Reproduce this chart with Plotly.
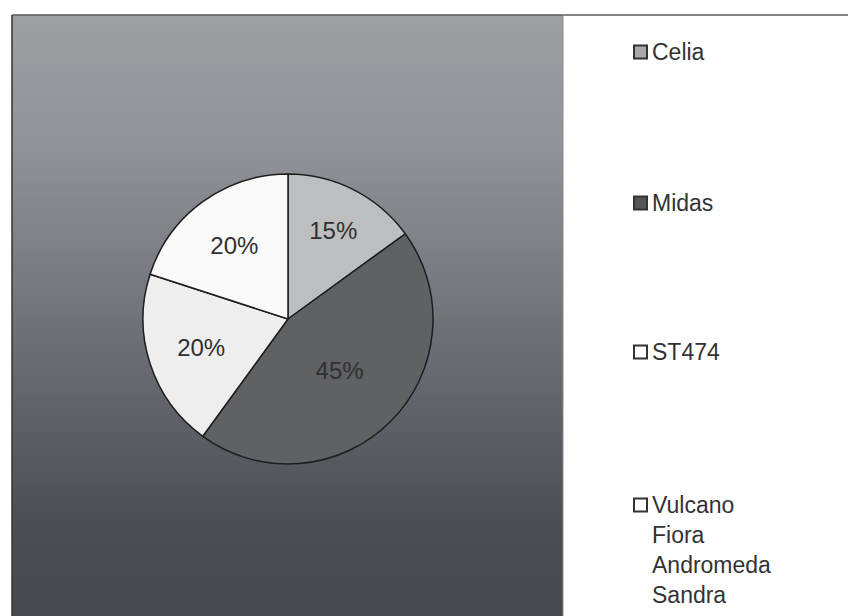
import plotly.graph_objects as go

# ---- data ----
categories = ["Celia", "Midas", "ST474", "Vulcano<br>Fiora<br>Andromeda<br>Sandra"]
legend_labels = ["Celia", "Midas", "ST474", "Vulcano<br>Fiora<br>Andromeda<br>Sandra"]
values = [15, 45, 20, 20]

# ---- style ----
W, H = 848, 616
slice_colors = ["#bdbebf", "#5f6164", "#eeeeee", "#f9f9f9"]
legend_fill = ["#a9a9a9", "#555555", "#ffffff", "#ffffff"]
font_family = "Liberation Sans, Arial, sans-serif"

box_left, box_right, box_top = 12, 563, 15

fig = go.Figure()

# gradient background (plot area)
grad_rows = list(range(0, 101))
fig.add_trace(go.Heatmap(
    z=[[r] for r in grad_rows],
    x=[0],
    y=grad_rows,
    colorscale=[[0.0, "#46494e"], [0.14, "#4a4d52"], [0.44, "#6a6d73"],
                [0.78, "#8f9297"], [1.0, "#9d9fa2"]],
    showscale=False,
    hoverinfo="skip",
    xaxis="x", yaxis="y",
))

fig.add_trace(go.Pie(
    labels=categories,
    values=values,
    sort=False,
    direction="clockwise",
    rotation=0,
    marker=dict(colors=slice_colors, line=dict(color="#1e1e1e", width=1.5)),
    texttemplate="%{percent:.0%}",
    textposition="inside",
    insidetextorientation="horizontal",
    textfont=dict(family=font_family, size=24, color="#303030"),
    domain=dict(x=[143 / W, 433 / W], y=[(H - 464) / H, (H - 174) / H]),
    showlegend=False,
    hoverinfo="label+percent",
))

shapes = []
annotations = []
# top border line
shapes.append(dict(type="line", xref="paper", yref="paper",
                   x0=box_left / W, x1=1, y0=(H - box_top) / H, y1=(H - box_top) / H,
                   line=dict(color="#5a5a5a", width=1.5)))
# left border
shapes.append(dict(type="line", xref="paper", yref="paper",
                   x0=box_left / W, x1=box_left / W, y0=0, y1=(H - box_top) / H,
                   line=dict(color="#333333", width=1.5)))
# divider between plot area and legend
shapes.append(dict(type="line", xref="paper", yref="paper",
                   x0=box_right / W, x1=box_right / W, y0=0, y1=(H - box_top) / H,
                   line=dict(color="#8a8a8a", width=1)))

# custom legend
legend_y = [52, 203, 352, 505]
sq = 13
sq_x = 634
for lbl, fillc, yc in zip(legend_labels, legend_fill, legend_y):
    shapes.append(dict(type="rect", xref="paper", yref="paper",
                       x0=sq_x / W, x1=(sq_x + sq) / W,
                       y0=(H - yc - sq / 2) / H, y1=(H - yc + sq / 2) / H,
                       fillcolor=fillc, line=dict(color="#333333", width=2)))
    annotations.append(dict(xref="paper", yref="paper",
                            x=(sq_x + sq + 3) / W, y=(H - yc + 15) / H,
                            xanchor="left", yanchor="top", align="left",
                            text=lbl, showarrow=False,
                            font=dict(family=font_family, size=23, color="#333333")))

fig.update_layout(
    width=W, height=H,
    margin=dict(l=0, r=0, t=0, b=0),
    paper_bgcolor="#ffffff",
    plot_bgcolor="#ffffff",
    xaxis=dict(domain=[box_left / W, box_right / W], visible=False, fixedrange=True),
    yaxis=dict(domain=[0, (H - box_top) / H], visible=False, fixedrange=True),
    shapes=shapes,
    annotations=annotations,
    showlegend=False,
)

fig.write_html("out.html", config={"displayModeBar": False},
               post_script="document.body.style.margin='0';")
